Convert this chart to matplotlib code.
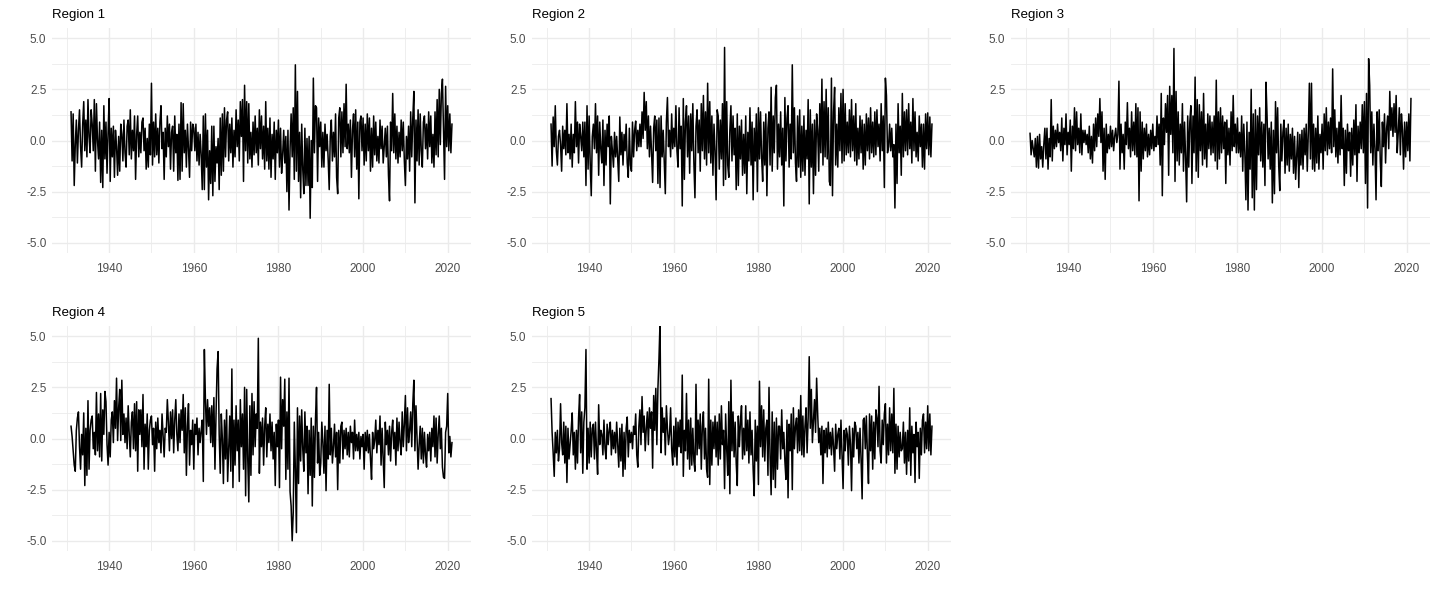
import numpy as np
import matplotlib
matplotlib.use("Agg")
from matplotlib import pyplot as plt
from matplotlib.ticker import MultipleLocator

# quarterly readings, 1931 Q1 onwards (last value = start of 2021)
start_year = 1931
steps_per_year = 4

region_1 = [
    1.4, -1.0, 1.3, -2.2, -0.2, 1.0, -1.1, 0.5, 1.5, -0.3, -1.3, 0.8, 1.9, -0.5, 1.0, -0.8,
    2.0, 0.2, -0.6, 1.5, 0.8, -0.5, 2.0, -1.5, 1.8, 0.0, -0.9, 0.9, -2.05, 0.5, -2.3, 1.7,
    -0.9, 0.9, -1.6, 0.4, 2.05, -2.0, 0.6, -0.8,
    0.7, -1.8, 0.5, -0.3, -1.7, 0.2, -1.5, 0.8, 0.3, -1.0, 1.0, -0.6, -1.3, 0.7, 1.0, -0.7,
    1.5, -0.9, 0.5, -0.5, 1.2, -1.9, 0.3, 1.2, -0.8, 0.4, -0.6, 0.9, 1.1, -0.5, 0.6, -1.4,
    0.1, -1.3, 0.8, -0.7, 2.8, -1.2, 0.9, -0.8,
    1.3, -0.7, 0.6, -1.1, 0.9, 1.7, -0.4, 0.4, -1.9, 0.6, -0.8, 1.2, -0.3, 0.8, -1.4, 0.4,
    0.7, -1.5, 1.2, -0.6, 0.3, -1.95, 0.8, -1.9, 1.85, -1.5, 1.8, -0.6, 0.5, -1.3, 0.8, -0.4,
    -1.8, 0.9, -0.5, 0.8, 0.6, -0.5, 0.8, -1.0,
    0.4, -1.2, 0.3, -0.7, -2.4, 1.2, -2.4, 1.3, -1.3, 0.5, -2.9, -0.5, -2.1, 0.7, -2.7, 0.7,
    -2.0, -0.3, -1.1, 0.1, -2.4, 1.1, -1.7, 1.3, -1.5, 1.6, -0.8, 1.0, 1.4, -1.0, 0.8, -0.6,
    1.1, -1.3, 0.5, -0.8, 1.5, -0.3, 1.0, -1.0,
    1.9, 0.2, 2.0, -2.0, 2.7, -0.5, 1.9, -1.1, 1.8, -0.9, 0.4, -1.3, 0.9, -0.7, 1.2, -0.6,
    0.6, -1.2, 1.5, -0.4, 1.2, -0.9, 0.7, -1.4, 1.9, -1.0, 0.6, -1.4, 1.1, -1.8, 0.3, -0.9,
    0.9, -1.9, 0.5, -0.6, 1.0, -1.3, 0.6, -1.6,
    -0.7, 0.5, -1.1, 0.2, -2.5, 0.5, -3.4, -0.4, 1.3, -0.8, 1.6, -1.9, 3.7, -1.5, 2.4, -2.0,
    0.4, -2.8, 0.8, -1.4, -2.6, 0.6, -2.2, 0.1, -2.2, 0.2, -3.8, 0.0, -2.3, 3.05, -0.6, 1.7,
    1.6, -2.0, 1.1, -0.3, 0.9, -1.3, 0.4, -1.3,
    0.8, -0.5, 0.3, -0.9, -2.4, 0.2, 1.0, -1.0, 0.4, -0.8, 1.3, -1.8, -2.6, 1.1, 1.6, -0.8,
    1.4, -0.6, 1.8, -0.3, 2.75, -0.4, 0.8, -0.6, 1.0, -1.8, 0.5, 1.3, -0.8, 1.5, -1.4, 0.9,
    -2.85, 0.9, 1.2, -0.5, 1.1, -1.2, 0.8, -1.0,
    1.3, -0.5, 1.1, -1.5, 0.6, -1.3, 1.2, -0.7, 0.9, -1.0, 0.2, -1.1, 1.0, -0.4, 0.7, -1.1,
    -0.3, 0.6, -0.8, 0.7, -1.7, -2.95, 0.9, -0.5, 2.3, -0.6, 1.3, -0.9, 0.7, -1.1, 0.4, -0.8,
    1.0, -0.5, 0.9, -1.0, -2.2, 0.2, -0.9, 0.7,
    -1.5, 1.4, -0.8, 1.1, 2.4, -3.05, 1.0, -1.0, 1.5, -1.2, 1.3, -0.5, -1.3, 0.9, 1.2, -0.4,
    0.8, -0.9, 1.4, -0.3, 1.2, -1.1, 0.3, -1.3, 1.4, -0.7, 2.0, -0.8, 2.5, -0.2, 2.3, 3.0,
    0.5, -1.9, 2.65, -0.3, 1.7, -0.5, 1.3, -0.6,
    0.8,
]

region_2 = [
    0.8, -1.25, 1.15, -0.3, 1.7, -0.5, -1.2, 0.2, 0.5, -0.2, -1.5, 0.7, -0.4, 0.5, -0.7, 1.8,
    -0.6, 0.3, -0.9, 0.8, -1.3, 0.3, -0.6, 1.9, -0.3, 0.9, -1.1, 0.8, 0.2, -0.5, 0.9, -0.8,
    0.9, -2.2, 1.7, -1.4, 1.2, -1.1, -2.7, 0.2,
    0.8, -0.4, 1.8, -0.6, 1.2, -1.7, 0.9, -0.4, -1.1, 1.0, -2.2, 0.5, -1.2, 0.8, -0.3, 1.2,
    -3.1, 0.2, -0.5, -1.3, 0.4, -0.8, 0.2, -0.9, -2.0, 1.15, -0.7, 0.4, -1.2, 0.3, -0.5, 0.8,
    -1.1, -1.8, 0.6, -1.2, -1.5, 0.9, -0.8, 0.5,
    0.95, -0.5, 0.5, -0.3, 0.8, -0.3, 1.4, 0.1, 2.35, 0.5, 1.9, -0.4, 1.2, -0.8, 0.7, -0.6,
    -2.05, 0.6, 1.2, -0.5, 1.0, -2.1, 1.1, -2.3, 1.2, -0.8, 0.5, -1.0, -2.6, 0.9, 2.1, -0.3,
    0.5, -0.8, 1.3, -0.4, 0.6, -0.3, 1.7, -0.5,
    -1.3, 1.6, -0.4, 0.7, -3.2, 2.05, -1.9, 0.9, 1.7, -0.8, 1.2, -1.6, 1.3, -0.5, 1.8, -1.1,
    -2.8, 0.7, 1.5, -0.6, 1.0, -1.5, 1.8, -0.5, 2.2, -0.9, 1.4, -1.2, 2.8, -0.6, 1.9, -1.1,
    1.2, -1.7, 0.8, -0.5, -2.9, 1.5, 1.2, -1.4,
    1.0, -0.9, 1.8, -2.2, 4.55, -1.9, 1.9, -1.2, -1.8, 0.5, 1.7, -1.0, 1.2, -0.7, 0.6, -2.4,
    1.3, -2.2, 0.7, -0.9, 1.0, -1.7, 0.3, -1.6, 1.2, -2.6, 0.4, -1.0, 1.6, -1.2, 0.9, -2.9,
    0.6, -1.0, 1.3, -2.5, 1.6, -0.9, 1.4, -0.8,
    -2.0, 0.9, -1.2, 1.3, -2.7, 0.6, 1.4, -1.2, 2.6, -1.5, 1.2, -0.6, 2.1, 2.7, -1.4, 0.8,
    -0.8, 1.4, -1.2, 0.6, -3.2, 2.1, -1.0, 1.1, 1.7, -1.3, 0.8, -0.9, 3.7, -0.6, 1.6, -1.1,
    -2.0, 1.2, -1.3, 1.5, -1.8, 0.7, -1.5, 1.2,
    -1.7, 0.5, -0.9, 2.0, -3.1, 1.5, -1.3, 0.8, -2.6, 1.0, -1.7, 1.3, 0.5, -1.5, 1.8, -0.6,
    3.0, -1.2, 1.9, -0.8, 2.5, -0.9, 1.6, -2.0, -2.2, 3.05, -2.7, 1.4, 2.6, -1.2, 0.8, -1.3,
    1.6, -0.5, 2.3, -1.1, 2.5, -1.0, 1.8, -0.7,
    0.9, -0.6, 1.5, -0.8, 2.0, -0.5, 1.2, -1.0, 1.8, -1.2, 0.6, -0.9, 1.2, -0.6, 1.0, -1.4,
    0.8, -1.2, 1.3, -0.5, 1.1, -0.9, 1.6, -0.6, 0.9, -0.8, 1.4, -0.7, 1.5, -0.3, 0.8, -1.0,
    1.8, -0.5, 1.2, -2.3, 3.05, 2.2, -0.6, -0.3,
    0.8, -0.5, 0.6, -0.8, -0.2, -3.3, 0.8, -2.1, 1.8, -0.6, 0.7, -1.7, 2.3, -0.8, 1.4, -0.5,
    1.5, -0.7, 1.8, -0.4, 0.9, -1.1, 2.05, -0.5, 1.4, -0.8, 0.4, -1.0, 1.2, -0.3, 0.8, -1.3,
    0.8, -1.4, 1.3, -0.4, 1.35, -0.7, 1.15, -0.8,
    0.8,
]

region_3 = [
    0.35, -0.7, 0.0, -0.4, -0.8, 0.1, -1.3, 0.2, -1.35, 0.3, -0.9, -0.3, -1.3, -0.2, 0.6, -0.9,
    0.6, -1.4, 0.1, -0.8, 2.0, -1.0, 0.7, -0.4, 0.5, -0.3, 0.8, -0.1, 0.4, -0.5, 1.1, -1.0,
    0.6, -0.2, 1.3, -0.7, 0.4, -0.2, 1.0, -1.5,
    0.7, -0.4, 1.6, -0.5, 1.4, -0.2, 0.6, -0.6, 1.3, -0.7, 0.5, -0.1, 0.5, -0.2, 0.3, -0.6,
    0.7, -0.9, 0.2, -1.1, 0.8, -0.5, 1.1, -0.3, 1.3, 0.2, 2.05, -0.1, 1.4, -1.5, 0.6, -1.9,
    0.8, -0.6, 0.3, -0.4, 0.7, -0.3, 0.5, -0.5,
    0.2, 0.6, -0.1, 0.3, 2.9, -1.4, 0.8, -0.6, 0.3, -1.4, 0.9, -0.2, 1.85, -0.4, 0.6, -0.8,
    1.4, -0.5, 0.9, -0.7, 1.8, -0.8, 1.6, -2.95, 1.4, -1.5, 0.9, -0.9, 0.6, -0.5, 0.8, -0.8,
    0.3, -0.7, 0.5, -0.4, 0.8, -0.5, 0.2, -0.3,
    1.2, -0.2, 0.8, -1.2, 2.3, -2.7, 1.1, -0.2, 1.8, 0.4, 2.2, -1.7, 2.65, 0.3, 2.2, -0.6,
    4.5, -2.0, 2.4, -1.0, 1.4, -1.2, 0.8, -0.6, 1.8, -1.5, 0.9, -0.8, -3.0, 1.2, -1.3, 0.9,
    1.7, -2.1, 1.2, -0.6, 3.1, -1.5, 2.0, -1.8,
    1.75, -0.5, 1.4, -1.2, 2.3, -0.9, 0.8, -1.3, 1.3, -0.4, 1.2, -0.7, 0.9, -0.6, 1.2, -1.0,
    2.95, -1.4, 1.4, -0.9, 1.6, -0.6, 1.2, -0.4, 0.9, -2.1, 1.0, -0.7, 0.6, -1.2, 1.4, -0.5,
    2.2, -0.3, 0.8, -0.6, 1.1, -0.6, 0.4, -0.8,
    1.2, -1.5, 0.8, -0.6, -2.9, 0.9, -3.4, 0.4, -1.4, 2.5, -2.8, 1.3, -3.4, 1.5, -2.4, 1.2,
    -0.7, 1.6, -1.0, 0.9, -1.3, 0.8, -2.2, 2.85, 1.2, -0.9, 0.6, -1.4, 0.9, -3.05, 0.5, -2.6,
    1.9, -0.6, 1.6, -1.2, -2.45, 0.8, -1.0, 0.4,
    1.0, -1.6, 0.6, -1.2, 0.8, -1.5, 0.3, -0.9, 0.6, -1.6, 0.2, -1.9, -0.8, 0.4, -2.3, 0.3,
    -1.2, 0.5, -1.4, 0.6, -0.7, 0.8, -1.5, 0.4, 2.8, -0.9, 2.8, -1.4, 0.8, -1.5, 0.6, -1.1,
    1.2, -1.4, 0.3, -0.6, 0.8, -1.4, 1.3, -0.5,
    1.6, -0.7, 0.9, -0.4, 1.1, -0.6, 3.5, -0.3, 1.5, -0.8, 0.6, -1.1, 0.9, -0.7, 2.2, -0.4,
    0.6, -2.2, 0.5, -1.6, 0.8, -0.5, 0.4, -1.75, 0.6, -1.2, 1.0, -0.7, 1.75, -2.0, 0.7, -0.6,
    0.9, -0.4, 1.75, -0.6, 1.9, -2.1, 2.3, -3.3,
    4.0, 2.7, -0.6, 1.4, -1.2, 0.8, -0.4, -2.9, 1.4, -0.5, 1.5, -1.0, -2.25, 0.9, -0.3, 1.3,
    -1.1, 0.6, 1.2, -0.4, 2.4, 0.5, 1.6, 0.2, 1.8, 0.4, 2.2, -0.6, 0.4, 1.6, -0.7, 1.3,
    0.5, -1.4, 0.9, -0.8, 0.9, -0.5, 1.3, -1.0,
    2.05,
]

region_4 = [
    0.6, 0.1, -0.6, -1.3, -1.6, 0.4, 1.0, 1.3, -0.4, -1.5, 0.2, -0.8, 1.25, -2.3, 0.5, -1.8,
    1.85, -1.5, 0.4, 0.9, 1.1, -0.5, 0.3, -0.8, 2.25, -0.6, 1.2, -0.9, 2.2, -1.1, 1.4, 0.2,
    2.3, 1.8, -0.3, -1.3, 0.3, -0.9, 0.9, 1.3,
    -0.2, 1.85, 0.5, 2.95, -0.1, 1.5, 2.4, -0.1, 2.85, 0.2, 1.2, -0.2, 1.0, -0.5, 1.6, 0.2,
    -0.9, 0.8, 1.3, -0.5, 1.7, -0.6, 1.8, -1.6, 1.4, 0.2, 1.4, -0.4, 2.15, -1.5, 0.7, -0.4,
    1.2, -1.5, 0.4, 0.9, 1.1, -0.3, 0.5, -1.6,
    0.8, -0.5, 1.0, -0.2, 0.4, -0.7, 1.2, 0.1, -0.9, 0.5, 0.3, 1.9, 0.8, -0.6, 1.3, 0.0,
    1.4, -0.7, 0.9, 1.9, 0.2, -0.6, 1.2, -0.2, 1.4, 0.4, 2.15, -0.7, 1.5, -1.8, 0.6, 1.7,
    -1.3, 0.4, -0.3, 0.9, -1.5, 0.7, 0.2, 1.0,
    -0.8, 0.5, -0.2, 0.4, 0.9, -2.1, 4.35, 1.9, 0.2, 1.9, 0.6, 1.5, -0.2, 1.6, -0.4, 2.0,
    -1.5, 1.1, 3.4, 4.25, 0.2, -1.7, 1.2, 0.0, -2.2, 0.9, -1.0, 1.4, -2.1, -0.5, 1.1, -1.6,
    3.4, -2.4, 0.9, -1.3, 1.6, -0.6, 0.9, -2.1,
    1.9, -0.4, 1.2, -1.5, 2.5, -2.8, 2.4, -1.0, -3.1, 1.6, -1.8, 2.2, -0.8, 1.8, -0.4, 1.2,
    0.5, 4.9, -1.7, 0.8, -0.4, 1.0, -1.3, 0.6, 1.5, -0.9, 0.7, -0.2, 1.2, -0.6, 0.8, -1.0,
    0.3, -2.3, 0.7, -0.4, 0.9, -2.4, 3.0, -0.5,
    1.9, 0.6, 2.9, -2.0, 1.3, -1.5, 2.95, -2.6, -3.3, -5.0, -3.6, 0.8, -1.5, -4.6, 1.5, -2.2,
    1.1, -1.1, 1.4, -0.5, -1.6, 1.3, -0.7, 0.6, -2.7, 0.4, -1.8, 1.0, -3.3, 0.6, -1.9, 0.9,
    2.5, -1.2, 0.3, -1.8, -1.2, 0.8, -0.2, -1.7,
    0.6, -2.55, 0.4, -1.0, 2.65, -0.8, 0.5, -1.2, -0.4, 0.7, -0.9, 0.3, -2.5, 0.4, -1.2, 0.6,
    0.8, -1.0, 0.4, -0.5, 0.5, -0.8, 0.3, -0.9, 0.6, -0.2, 0.3, -1.0, 0.9, -0.6, 0.2, -0.6,
    0.3, -1.0, 0.1, -0.4, 0.2, -1.5, 0.3, -0.6,
    0.4, -0.7, 0.2, -1.0, -2.0, 0.3, -0.5, -0.1, 0.9, -0.7, 0.4, -0.3, 1.1, -1.3, 0.5, -0.9,
    -2.4, 0.8, -0.3, 0.4, -0.8, 0.6, -1.1, 0.3, 0.9, -0.5, 0.3, -1.3, 1.0, -0.6, 0.8, -0.2,
    -0.8, 1.3, -0.4, 0.7, 2.1, -0.6, 1.5, -0.2,
    0.4, 1.3, -0.4, 1.7, 2.85, -0.6, 1.6, 0.0, -1.5, -0.3, 0.6, -1.0, 0.5, -1.2, 0.3, -0.8,
    -1.4, 0.2, -0.6, 0.3, -1.1, 0.5, -0.4, 1.1, -0.9, 1.0, -1.2, 0.2, 1.1, -0.5, 0.5, -1.4,
    -1.9, -1.95, 0.3, 0.6, 2.2, -0.7, 0.1, -0.9,
    -0.2,
]

region_5 = [
    1.95, 0.3, -0.7, -1.85, 0.3, -0.7, 0.4, -1.1, -0.5, 1.7, -0.2, -0.8, 0.8, -1.2, 0.6, -2.15,
    0.5, -1.0, -0.3, 0.4, 1.25, -0.8, 0.3, -1.5, 0.4, -1.2, 1.0, 2.15, -0.7, 1.3, -1.7, 0.8,
    1.5, 4.35, -1.5, 0.5, -1.2, 0.8, -0.9, 0.5,
    0.7, -1.0, 0.8, -0.6, -1.75, 1.65, -0.3, 0.4, 0.2, -0.8, 0.9, -0.5, -1.0, 0.7, -0.3, 0.4,
    0.8, -0.8, 0.4, -0.5, 0.3, -0.7, 0.8, -0.3, -1.4, 0.5, -1.1, 0.7, -1.85, 0.3, -1.5, 0.5,
    1.05, -0.9, 0.4, -0.2, 0.3, -0.5, 0.6, 0.2,
    1.2, -0.8, -1.4, 0.6, 1.4, -0.3, 2.05, 0.3, 1.1, -0.6, 0.5, 1.3, -0.3, 1.5, 0.5, 1.3,
    -1.45, 2.1, 0.4, 2.45, -0.3, 2.45, 3.9, 5.7, -0.7, 1.5, 0.3, 1.0, -0.8, 1.6, 0.5, -0.3,
    0.2, 1.5, -0.5, -1.3, 0.6, -0.9, 1.0, -1.3,
    0.8, -0.4, 0.9, -0.7, 3.1, -1.85, 0.4, -0.6, 2.2, -1.0, 0.9, -1.5, 1.0, -1.3, 0.5, -1.1,
    -1.6, 2.65, -0.8, 0.9, -0.5, 1.2, -1.5, 0.6, 1.3, -1.0, 0.5, -1.5, -1.9, 2.9, -2.25, 0.9,
    -1.3, 0.8, -0.5, 1.1, -0.9, 0.8, -1.3, 1.2,
    -1.0, 1.6, -0.3, 0.4, -2.45, 1.2, -0.5, -1.8, 1.8, -2.7, 2.85, -0.6, 1.3, -0.9, 0.8, -1.2,
    -2.3, 1.1, -0.4, 0.8, 1.6, -1.0, 0.5, -0.8, 1.6, -0.6, 0.9, -1.2, 1.3, -0.8, 0.4, -1.5,
    -2.8, 0.9, -1.1, 0.6, -2.25, 2.8, -0.4, 1.6,
    -0.9, 1.4, -1.1, 0.5, 0.9, -1.8, 2.5, -0.9, -2.75, 1.3, -2.0, 0.8, -2.4, 1.0, -1.5, 0.6,
    0.6, -1.0, 1.4, -0.5, 0.3, -1.1, -2.0, 0.9, -2.9, 0.7, -0.6, 1.2, -2.5, 1.5, -0.5, 0.6,
    1.0, -0.7, 1.4, -0.6, 2.1, -0.8, 1.1, -0.9,
    0.6, 1.5, -0.7, 1.0, 4.0, 0.5, 2.4, -0.2, 0.8, 1.9, 0.3, 2.95, 1.2, -0.2, 0.5, -0.8,
    0.6, -2.2, 0.4, -0.7, 0.5, -0.9, 0.8, -0.5, 0.3, -0.8, 0.5, -0.4, -1.6, 0.7, -0.5, 0.2,
    0.5, -1.0, 0.9, -0.8, -2.45, 0.4, -0.6, 0.5,
    0.2, -1.3, 0.6, -0.3, -2.55, 0.5, -0.9, 0.8, 0.6, -0.5, 0.3, -1.2, 0.5, -1.0, -2.95, 0.9,
    1.0, -0.5, 1.1, -0.8, -2.2, 1.2, -0.6, 1.1, -1.5, 0.8, -1.0, 1.4, 1.0, -0.4, 2.55, -0.6,
    -1.2, 0.9, -0.3, 1.2, 1.7, -1.2, 0.7, -0.8,
    1.5, -0.6, 1.2, -0.7, 2.45, -1.7, 0.7, -1.5, 0.6, -0.9, 0.3, -0.6, -0.5, 0.8, -1.2, 0.3,
    -1.75, 0.4, -1.1, 1.5, -1.8, 0.6, -0.7, 0.2, -2.15, 0.8, -0.4, 0.3, -1.95, 0.5, -0.8, 0.9,
    1.2, -0.7, 0.8, -0.5, 1.6, -0.6, 1.2, -0.8,
    0.6,
]

titles = ["Region 1", "Region 2", "Region 3", "Region 4", "Region 5"]
series = [region_1, region_2, region_3, region_4, region_5]

W, H = 1436, 597
fig = plt.figure(figsize=(W / 100, H / 100), dpi=100)
fig.patch.set_facecolor("white")

col_left = [52, 532, 1011]
row_top = [28, 326]
ax_w, ax_h = 419, 225

grid_col = "#ebebeb"
text_col = "#4d4d4d"

for i, (title, vals) in enumerate(zip(titles, series)):
    r, c = divmod(i, 3)
    left = col_left[c] / W
    bottom = 1 - (row_top[r] + ax_h) / H
    ax = fig.add_axes([left, bottom, ax_w / W, ax_h / H])

    vals = np.asarray(vals)
    t = start_year + np.arange(len(vals)) / steps_per_year
    ax.plot(t, vals, color="black", linewidth=1.1)

    ax.set_xlim(1926.5, 2025.5)
    ax.set_ylim(-5.5, 5.5)
    ax.xaxis.set_minor_locator(MultipleLocator(10))
    ax.yaxis.set_minor_locator(MultipleLocator(1.25))
    ax.set_xticks([1940, 1960, 1980, 2000, 2020])
    ax.set_yticks([-5.0, -2.5, 0.0, 2.5, 5.0])
    ax.set_yticklabels(["-5.0", "-2.5", "0.0", "2.5", "5.0"])

    ax.grid(which="major", color=grid_col, linewidth=1.0)
    ax.grid(which="minor", color=grid_col, linewidth=0.6)
    ax.set_axisbelow(True)
    for spine in ax.spines.values():
        spine.set_visible(False)
    ax.tick_params(which="both", length=0, colors=text_col, labelsize=8.5)
    ax.tick_params(axis="y", pad=4)
    ax.tick_params(axis="x", pad=7)
    for lab in ax.get_xticklabels() + ax.get_yticklabels():
        lab.set_family("Liberation Sans")

    ax.set_title(title, loc="left", fontsize=9.5, pad=7.5, family="Liberation Sans", color="black")

plt.savefig("out.png", dpi=100)
